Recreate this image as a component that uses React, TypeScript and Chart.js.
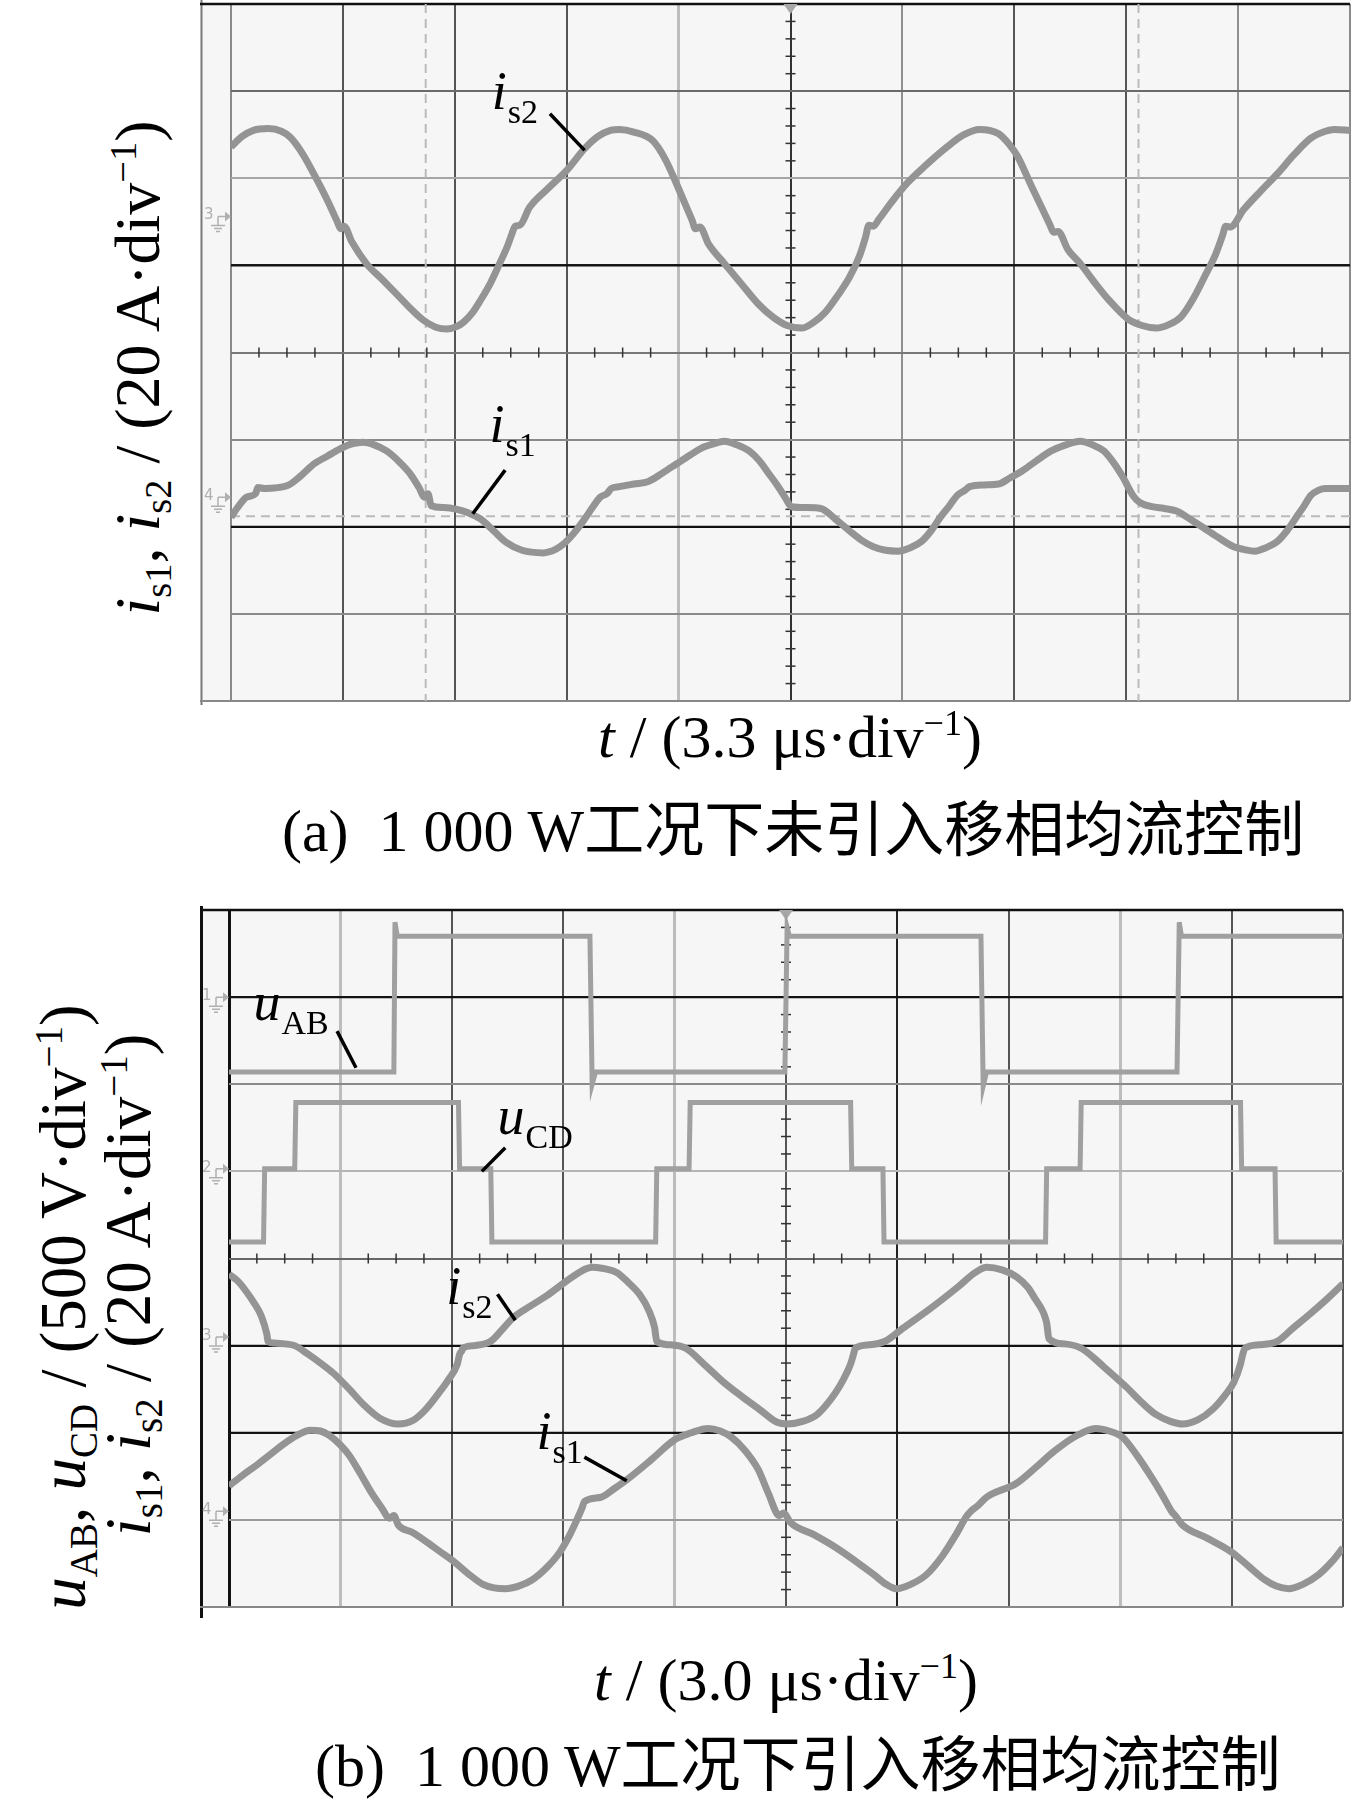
import React, { useEffect, useRef } from 'react';
import { Chart, registerables } from 'chart.js';

Chart.register(...registerables);

// ---------- Panel (a): x in divisions (3.3 µs/div), y in divisions (20 A/div) ----------
const is2A: number[][] = [
  [0.00, 2.36], [0.10, 2.48], [0.20, 2.55], [0.33, 2.57], [0.45, 2.54], [0.53, 2.47], [0.64, 2.28],
  [0.74, 2.05], [0.86, 1.75], [0.95, 1.50], [0.98, 1.42], [1.01, 1.45], [1.08, 1.27], [1.21, 1.02],
  [1.35, 0.84], [1.48, 0.67], [1.60, 0.51], [1.72, 0.37], [1.83, 0.29], [1.93, 0.27], [2.02, 0.30],
  [2.08, 0.35], [2.16, 0.46], [2.23, 0.60], [2.32, 0.80], [2.40, 1.02], [2.47, 1.22], [2.51, 1.36],
  [2.54, 1.45], [2.58, 1.46], [2.67, 1.67], [2.83, 1.88], [3.00, 2.09], [3.16, 2.34], [3.28, 2.48],
  [3.39, 2.55], [3.47, 2.56], [3.60, 2.53], [3.77, 2.43], [3.88, 2.22], [3.98, 1.94], [4.06, 1.70],
  [4.12, 1.52], [4.15, 1.42], [4.19, 1.44], [4.27, 1.24], [4.41, 1.02], [4.56, 0.79], [4.71, 0.56],
  [4.85, 0.40], [4.97, 0.31], [5.10, 0.28], [5.20, 0.34], [5.31, 0.46], [5.42, 0.65], [5.53, 0.87],
  [5.62, 1.12], [5.67, 1.32], [5.70, 1.46], [5.74, 1.45], [5.79, 1.53], [5.90, 1.72], [6.04, 1.94],
  [6.21, 2.15], [6.39, 2.35], [6.55, 2.50], [6.69, 2.56], [6.86, 2.51], [6.96, 2.38], [7.03, 2.25],
  [7.16, 1.89], [7.25, 1.65], [7.32, 1.46], [7.35, 1.38], [7.39, 1.39], [7.48, 1.18], [7.59, 1.02],
  [7.72, 0.80], [7.84, 0.61], [8.02, 0.38], [8.14, 0.31], [8.27, 0.28], [8.38, 0.32], [8.49, 0.41],
  [8.60, 0.62], [8.70, 0.87], [8.80, 1.13], [8.86, 1.34], [8.89, 1.45], [8.93, 1.44], [9.05, 1.64],
  [9.20, 1.85], [9.35, 2.05], [9.50, 2.27], [9.65, 2.46], [9.78, 2.54], [9.86, 2.56], [10.00, 2.55],
];

const is1A: number[][] = [
  [0.00, -1.89], [0.07, -1.76], [0.14, -1.66], [0.22, -1.62], [0.24, -1.55], [0.30, -1.56], [0.50, -1.53],
  [0.62, -1.42], [0.74, -1.28], [0.86, -1.19], [0.97, -1.11], [1.08, -1.05], [1.18, -1.03], [1.28, -1.06],
  [1.39, -1.13], [1.50, -1.25], [1.60, -1.39], [1.68, -1.55], [1.73, -1.66], [1.76, -1.62], [1.79, -1.76],
  [1.90, -1.78], [2.02, -1.80], [2.12, -1.84], [2.23, -1.91], [2.35, -2.05], [2.46, -2.18], [2.60, -2.27],
  [2.79, -2.30], [2.90, -2.26], [2.97, -2.20], [3.06, -2.08], [3.15, -1.93], [3.23, -1.78], [3.30, -1.66],
  [3.36, -1.62], [3.40, -1.56], [3.47, -1.54], [3.60, -1.51], [3.73, -1.48], [3.86, -1.38], [3.98, -1.28],
  [4.10, -1.18], [4.20, -1.10], [4.31, -1.05], [4.41, -1.02], [4.52, -1.06], [4.63, -1.13], [4.72, -1.24],
  [4.80, -1.38], [4.88, -1.52], [4.95, -1.66], [5.01, -1.77], [5.14, -1.78], [5.27, -1.79], [5.40, -1.91],
  [5.53, -2.05], [5.64, -2.16], [5.74, -2.23], [5.85, -2.27], [5.96, -2.28], [6.07, -2.24], [6.17, -2.17],
  [6.26, -2.04], [6.34, -1.89], [6.42, -1.76], [6.49, -1.64], [6.56, -1.58], [6.60, -1.54], [6.73, -1.52],
  [6.86, -1.51], [6.96, -1.44], [7.07, -1.36], [7.20, -1.24], [7.33, -1.13], [7.46, -1.06], [7.59, -1.02],
  [7.70, -1.06], [7.80, -1.13], [7.89, -1.27], [7.97, -1.43], [8.06, -1.64], [8.12, -1.72], [8.23, -1.77],
  [8.34, -1.79], [8.45, -1.82], [8.58, -1.92], [8.70, -2.02], [8.83, -2.13], [8.96, -2.23], [9.05, -2.26],
  [9.15, -2.28], [9.25, -2.24], [9.35, -2.17], [9.44, -2.04], [9.52, -1.89], [9.59, -1.76], [9.65, -1.64],
  [9.72, -1.58], [9.78, -1.56], [10.00, -1.56],
];

// ---------- Panel (b): x in divisions (3.0 µs/div), y in divisions ----------
const uAB: number[][] = [
  [0.00, 2.14], [1.48, 2.14], [1.49, 3.86], [1.51, 3.70], [3.24, 3.70], [3.26, 2.00], [3.29, 2.14],
  [4.99, 2.14], [5.01, 3.80], [5.03, 3.70], [6.75, 3.70], [6.77, 1.98], [6.80, 2.14], [8.51, 2.14],
  [8.53, 3.86], [8.55, 3.70], [10.00, 3.70],
];

const uCD: number[][] = [
  [0.00, 0.19], [0.31, 0.19], [0.32, 1.03], [0.59, 1.03], [0.60, 1.79], [2.06, 1.79], [2.07, 1.03],
  [2.35, 1.03], [2.36, 0.19], [3.83, 0.19], [3.84, 1.03], [4.13, 1.03], [4.14, 1.79], [5.58, 1.79],
  [5.59, 1.03], [5.87, 1.03], [5.88, 0.19], [7.33, 0.19], [7.34, 1.03], [7.64, 1.03], [7.65, 1.79],
  [9.08, 1.79], [9.09, 1.03], [9.39, 1.03], [9.40, 0.19], [10.00, 0.19],
];

const is2B: number[][] = [
  [0.00, -0.18], [0.08, -0.26], [0.15, -0.37], [0.22, -0.50], [0.29, -0.66], [0.34, -0.87], [0.35, -0.95],
  [0.40, -0.97], [0.50, -0.98], [0.59, -1.00], [0.70, -1.09], [0.82, -1.20], [0.94, -1.32], [1.08, -1.50],
  [1.21, -1.68], [1.35, -1.83], [1.52, -1.90], [1.65, -1.86], [1.76, -1.74], [1.88, -1.55], [1.97, -1.39],
  [2.05, -1.21], [2.07, -1.10], [2.09, -1.06], [2.10, -1.03], [2.20, -1.00], [2.35, -0.95], [2.45, -0.82],
  [2.55, -0.68], [2.70, -0.55], [2.86, -0.42], [3.05, -0.24], [3.20, -0.12], [3.27, -0.10], [3.38, -0.12],
  [3.48, -0.16], [3.58, -0.27], [3.69, -0.42], [3.77, -0.60], [3.82, -0.79], [3.84, -0.95], [3.95, -0.99],
  [4.10, -1.03], [4.27, -1.22], [4.44, -1.42], [4.60, -1.58], [4.77, -1.74], [4.92, -1.88], [5.01, -1.90],
  [5.15, -1.87], [5.28, -1.79], [5.40, -1.62], [5.48, -1.47], [5.55, -1.30], [5.58, -1.21], [5.61, -1.08],
  [5.62, -1.03], [5.75, -0.99], [5.89, -0.95], [6.05, -0.80], [6.29, -0.58], [6.55, -0.32], [6.70, -0.16],
  [6.80, -0.10], [6.94, -0.13], [7.07, -0.21], [7.17, -0.33], [7.24, -0.47], [7.31, -0.62], [7.34, -0.74],
  [7.36, -0.92], [7.50, -0.98], [7.65, -1.03], [7.85, -1.24], [8.05, -1.47], [8.20, -1.66], [8.32, -1.79],
  [8.45, -1.87], [8.56, -1.90], [8.70, -1.85], [8.83, -1.73], [8.94, -1.57], [9.02, -1.42], [9.08, -1.21],
  [9.10, -1.10], [9.12, -1.03], [9.25, -0.99], [9.41, -0.95], [9.55, -0.80], [9.71, -0.63], [9.86, -0.46],
  [10.00, -0.29],
];

const is1B: number[][] = [
  [0.00, -2.61], [0.12, -2.49], [0.25, -2.37], [0.37, -2.25], [0.49, -2.13], [0.61, -2.03], [0.73, -1.97],
  [0.82, -1.98], [0.90, -2.03], [1.00, -2.14], [1.08, -2.26], [1.18, -2.47], [1.28, -2.69], [1.37, -2.86],
  [1.44, -2.98], [1.48, -2.95], [1.52, -3.06], [1.64, -3.14], [1.76, -3.24], [1.89, -3.36], [2.02, -3.48],
  [2.15, -3.62], [2.28, -3.74], [2.38, -3.78], [2.48, -3.79], [2.60, -3.76], [2.72, -3.69], [2.85, -3.55],
  [2.97, -3.37], [3.06, -3.17], [3.14, -2.95], [3.17, -2.86], [3.19, -2.79], [3.34, -2.74], [3.46, -2.64],
  [3.58, -2.53], [3.79, -2.31], [4.00, -2.08], [4.15, -2.00], [4.30, -1.95], [4.41, -1.98], [4.51, -2.05],
  [4.63, -2.20], [4.75, -2.42], [4.84, -2.69], [4.94, -2.95], [4.98, -2.92], [5.04, -3.03], [5.25, -3.17],
  [5.45, -3.32], [5.62, -3.47], [5.79, -3.63], [5.90, -3.74], [5.99, -3.79], [6.12, -3.74], [6.26, -3.63],
  [6.40, -3.42], [6.53, -3.16], [6.62, -2.96], [6.66, -2.90], [6.72, -2.84], [6.80, -2.74], [7.07, -2.58],
  [7.24, -2.40], [7.41, -2.21], [7.60, -2.04], [7.78, -1.95], [7.90, -1.98], [8.02, -2.05], [8.15, -2.26],
  [8.29, -2.53], [8.38, -2.72], [8.46, -2.90], [8.50, -2.96], [8.56, -3.06], [8.78, -3.21], [9.00, -3.37],
  [9.15, -3.53], [9.30, -3.69], [9.40, -3.76], [9.51, -3.79], [9.64, -3.74], [9.78, -3.63], [9.90, -3.48],
  [10.00, -3.32],
];

// ---------- decorations (data units) ----------
const cursorsA = [1.74, 8.11];
const dashedLevelsA = [-1.88];
const blackLevelsA = [1, -2];
const blackLevelsB = [3, -1, -2];
const channelA = [['3', 1.56], ['4', -1.66]];
const channelB = [['1', 3.0], ['2', 1.03], ['3', -0.9], ['4', -2.9]];
const labelsA = [['i', 's2', 2.33, 2.80], ['i', 's1', 2.31, -1.03]];
const leadersA = [[2.85, 2.74, 3.16, 2.32], [2.45, -1.35, 2.16, -1.85]];
const labelsB = [['u', 'AB', 0.22, 2.74], ['u', 'CD', 2.41, 1.43], ['i', 's2', 1.95, -0.52], ['i', 's1', 2.76, -2.19]];
const leadersB = [[0.97, 2.61, 1.14, 2.19], [2.48, 1.27, 2.27, 1.00], [2.41, -0.41, 2.57, -0.71], [3.19, -2.28, 3.57, -2.55]];

// grid line looks (index 0..10 for x, value 4..-4 for y)
const xGridColorA = ['#8a8a8a', '#555', '#555', '#555', '#bdbdbd', '#333', '#909090', '#555', '#555', '#909090', '#8a8a8a'];
const xGridWidthA = [2, 2, 2, 2, 3, 2, 2, 2, 2, 2, 2];
const yGridColorA: Record<string, string> = { '4': '#111', '3': '#6a6a6a', '2': '#a5a5a5', '1': '#222', '0': '#777', '-1': '#8a8a8a', '-2': '#111', '-3': '#8a8a8a', '-4': '#777' };
const xGridColorB = ['#111', '#bdbdbd', '#555', '#555', '#bdbdbd', '#555', '#222', '#555', '#bdbdbd', '#555', '#555'];
const xGridWidthB = [3, 3, 2, 2, 3, 2, 2, 2, 3, 2, 2];
const yGridColorB: Record<string, string> = { '4': '#111', '3': '#222', '2': '#8a8a8a', '1': '#b5b5b5', '0': '#666', '-1': '#111', '-2': '#333', '-3': '#9a9a9a', '-4': '#888' };

const toPts = (arr: number[][]) => arr.map(([x, y]) => ({ x, y }));

function traceSets(arr: number[][], square: boolean) {
  const pts = toPts(arr);
  const common: any = { data: pts, showLine: true, pointRadius: 0, fill: false };
  if (square) {
    return [
      { ...common, borderColor: '#a0a0a0', borderWidth: 5, tension: 0 },
      { ...common, borderColor: '#808080', borderWidth: 1.5, tension: 0 },
    ];
  }
  return [
    { ...common, borderColor: '#949494', borderWidth: 7, cubicInterpolationMode: 'monotone' },
    { ...common, borderColor: '#707070', borderWidth: 2.5, cubicInterpolationMode: 'monotone' },
  ];
}

function makePlugin(p: any) {
  return {
    id: 'scope',
    beforeDraw(chart: any) {
      const { ctx, chartArea: a } = chart;
      ctx.save();
      ctx.fillStyle = '#f6f6f6';
      ctx.fillRect(0, a.top, a.right, a.bottom - a.top);
      ctx.restore();
    },
    beforeDatasetsDraw(chart: any) {
      const { ctx, chartArea: a, scales } = chart;
      const sx = scales.x, sy = scales.y;
      ctx.save();
      ctx.strokeStyle = p.leftColor;
      ctx.lineWidth = p.leftWidth;
      ctx.beginPath();
      ctx.moveTo(1.5, 0);
      ctx.lineTo(1.5, chart.height);
      ctx.stroke();
      ctx.strokeStyle = '#111';
      ctx.lineWidth = 2.5;
      ctx.beginPath();
      ctx.moveTo(0, a.top);
      ctx.lineTo(a.right, a.top);
      ctx.stroke();
      ctx.strokeStyle = '#888';
      ctx.lineWidth = 2;
      ctx.beginPath();
      ctx.moveTo(0, a.bottom);
      ctx.lineTo(a.right, a.bottom);
      ctx.stroke();
      p.blackLevels.forEach((v: number) => {
        const y = sy.getPixelForValue(v);
        ctx.strokeStyle = '#111';
        ctx.lineWidth = 2;
        ctx.beginPath();
        ctx.moveTo(a.left, y);
        ctx.lineTo(a.right, y);
        ctx.stroke();
      });
      ctx.setLineDash([9, 6]);
      ctx.strokeStyle = '#bbbbbb';
      ctx.lineWidth = 2;
      p.dashedLevels.forEach((v: number) => {
        const y = sy.getPixelForValue(v);
        ctx.beginPath();
        ctx.moveTo(a.left, y);
        ctx.lineTo(a.right, y);
        ctx.stroke();
      });
      p.cursors.forEach((v: number) => {
        const x = sx.getPixelForValue(v);
        ctx.beginPath();
        ctx.moveTo(x, a.top);
        ctx.lineTo(x, a.bottom);
        ctx.stroke();
      });
      ctx.setLineDash([]);
      const x0 = sx.getPixelForValue(5);
      const y0 = sy.getPixelForValue(0);
      ctx.strokeStyle = '#333';
      ctx.lineWidth = 1.5;
      for (let i = 1; i < 40; i++) {
        if (i % 4 === 0) continue;
        const x = sx.getPixelForValue(i / 4);
        ctx.beginPath();
        ctx.moveTo(x, y0 - 5);
        ctx.lineTo(x, y0 + 5);
        ctx.stroke();
      }
      for (let j = -19; j < 20; j++) {
        if (j % 5 === 0) continue;
        const y = sy.getPixelForValue(j / 5);
        ctx.beginPath();
        ctx.moveTo(x0 - 5, y);
        ctx.lineTo(x0 + 5, y);
        ctx.stroke();
      }
      ctx.fillStyle = '#a8a8a8';
      ctx.beginPath();
      ctx.moveTo(x0 - 7, a.top);
      ctx.lineTo(x0 + 7, a.top);
      ctx.lineTo(x0, a.top + 10);
      ctx.closePath();
      ctx.fill();
      ctx.strokeStyle = '#b0b0b0';
      ctx.fillStyle = '#b0b0b0';
      ctx.lineWidth = 1.5;
      ctx.font = '15px "DejaVu Sans"';
      ctx.textBaseline = 'middle';
      p.channels.forEach(([ch, v]: any) => {
        const y = sy.getPixelForValue(v);
        const gx = a.left - 13;
        ctx.fillText(ch, a.left - 27, y - 1);
        ctx.beginPath();
        ctx.moveTo(gx, y);
        ctx.lineTo(a.left - 5, y);
        ctx.moveTo(gx, y);
        ctx.lineTo(gx, y + 9);
        ctx.moveTo(gx - 7, y + 9);
        ctx.lineTo(gx + 7, y + 9);
        ctx.moveTo(gx - 4, y + 12);
        ctx.lineTo(gx + 4, y + 12);
        ctx.moveTo(gx - 2, y + 15);
        ctx.lineTo(gx + 2, y + 15);
        ctx.stroke();
        ctx.beginPath();
        ctx.moveTo(a.left - 6, y - 5);
        ctx.lineTo(a.left, y);
        ctx.lineTo(a.left - 6, y + 5);
        ctx.closePath();
        ctx.fill();
      });
      ctx.restore();
    },
    afterDatasetsDraw(chart: any) {
      const { ctx, scales } = chart;
      const sx = scales.x, sy = scales.y;
      ctx.save();
      ctx.strokeStyle = '#000';
      ctx.lineWidth = 3.5;
      p.leaders.forEach(([x1, y1, x2, y2]: number[]) => {
        ctx.beginPath();
        ctx.moveTo(sx.getPixelForValue(x1), sy.getPixelForValue(y1));
        ctx.lineTo(sx.getPixelForValue(x2), sy.getPixelForValue(y2));
        ctx.stroke();
      });
      ctx.fillStyle = '#000';
      ctx.textBaseline = 'alphabetic';
      p.labels.forEach(([main, sub, vx, vy]: any) => {
        const x = sx.getPixelForValue(vx);
        const y = sy.getPixelForValue(vy);
        ctx.font = 'italic 54px "Liberation Serif"';
        ctx.fillText(main, x, y);
        const w = ctx.measureText(main).width;
        ctx.font = '34px "Liberation Serif"';
        ctx.fillText(sub, x + w + 1, y + 14);
      });
      ctx.restore();
    },
  };
}

function makeConfig(series: any[], p: any, padding: any) {
  return {
    type: 'scatter',
    data: { datasets: series },
    options: {
      animation: false,
      responsive: false,
      devicePixelRatio: 1,
      layout: { padding },
      plugins: { legend: { display: false }, tooltip: { enabled: false }, title: { display: false } },
      elements: { point: { radius: 0 } },
      scales: {
        x: {
          type: 'linear', min: 0, max: 10,
          ticks: { display: false, stepSize: 1 },
          border: { display: false },
          grid: {
            drawTicks: false,
            color: (c: any) => p.xColor[Math.round(c.tick ? c.tick.value : 0)] || '#777',
            lineWidth: (c: any) => p.xWidth[Math.round(c.tick ? c.tick.value : 0)] || 2,
          },
        },
        y: {
          type: 'linear', min: -4, max: 4,
          ticks: { display: false, stepSize: 1 },
          border: { display: false },
          grid: {
            drawTicks: false,
            color: (c: any) => p.yColor[String(Math.round(c.tick ? c.tick.value : 0))] || '#888',
            lineWidth: 2,
          },
        },
      },
    },
    plugins: [makePlugin(p)],
  };
}

const Sub = ({ children }: any) => (
  <span style={{ fontSize: '0.6em', position: 'relative', top: '0.3em' }}>{children}</span>
);
const Sup = ({ children }: any) => (
  <span style={{ fontSize: '0.6em', position: 'relative', top: '-0.6em' }}>{children}</span>
);

const serif = '"Liberation Serif", "Times New Roman", "Noto Sans CJK SC", serif';

export default function App() {
  const refA = useRef<HTMLCanvasElement>(null);
  const refB = useRef<HTMLCanvasElement>(null);

  useEffect(() => {
    document.body.style.margin = '0';
    const pA = {
      xColor: xGridColorA, xWidth: xGridWidthA, yColor: yGridColorA,
      blackLevels: blackLevelsA, dashedLevels: dashedLevelsA, cursors: cursorsA,
      channels: channelA, labels: labelsA, leaders: leadersA, leftColor: '#7a7a7a', leftWidth: 2,
    };
    const pB = {
      xColor: xGridColorB, xWidth: xGridWidthB, yColor: yGridColorB,
      blackLevels: blackLevelsB, dashedLevels: [], cursors: [],
      channels: channelB, labels: labelsB, leaders: leadersB, leftColor: '#111', leftWidth: 3,
    };
    const chartA = new Chart(refA.current as any, makeConfig(
      [...traceSets(is2A, false), ...traceSets(is1A, false)], pA,
      { left: 31, right: 1, top: 4, bottom: 4 }) as any);
    const chartB = new Chart(refB.current as any, makeConfig(
      [...traceSets(uAB, true), ...traceSets(uCD, true), ...traceSets(is2B, false), ...traceSets(is1B, false)], pB,
      { left: 29, right: 3, top: 4, bottom: 11 }) as any);
    return () => {
      chartA.destroy();
      chartB.destroy();
    };
  }, []);

  const abs = (s: any) => ({ position: 'absolute' as const, whiteSpace: 'nowrap' as const, lineHeight: 1, ...s });
  const rot = (cx: number, cy: number, size: number) =>
    abs({ left: cx, top: cy, fontSize: size, transform: 'translate(-50%, -50%) rotate(-90deg)' });

  return (
    <div style={{ position: 'relative', width: 1351, height: 1809, background: '#fff', fontFamily: serif, color: '#000', overflow: 'hidden' }}>
      <canvas ref={refA} width={1151} height={705} style={{ position: 'absolute', left: 200, top: 0, width: 1151, height: 705 }} />
      <canvas ref={refB} width={1146} height={712} style={{ position: 'absolute', left: 200, top: 906, width: 1146, height: 712 }} />

      {/* panel (a) texts */}
      <div style={rot(138, 368, 64)}>
        <i>i</i><Sub>s1</Sub>, <i>i</i><Sub>s2</Sub> / (20 A·div<Sup>−1</Sup>)
      </div>
      <div style={abs({ left: 790, top: 707, fontSize: 60, transform: 'translateX(-50%)' })}>
        <i>t</i> / (3.3 μs·div<Sup>−1</Sup>)
      </div>
      <div style={abs({ left: 282, top: 801, fontSize: 60 })}>
        (a)&nbsp;&nbsp;1 000 W工况下未引入移相均流控制
      </div>

      {/* panel (b) texts */}
      <div style={rot(63, 1307, 65)}>
        <i>u</i><Sub>AB</Sub>, <i>u</i><Sub>CD</Sub> / (500 V·div<Sup>−1</Sup>)
      </div>
      <div style={rot(128, 1285, 65)}>
        <i>i</i><Sub>s1</Sub>, <i>i</i><Sub>s2</Sub> / (20 A·div<Sup>−1</Sup>)
      </div>
      <div style={abs({ left: 786, top: 1650, fontSize: 60, transform: 'translateX(-50%)' })}>
        <i>t</i> / (3.0 μs·div<Sup>−1</Sup>)
      </div>
      <div style={abs({ left: 315, top: 1736, fontSize: 60 })}>
        (b)&nbsp;&nbsp;1 000 W工况下引入移相均流控制
      </div>
    </div>
  );
}
